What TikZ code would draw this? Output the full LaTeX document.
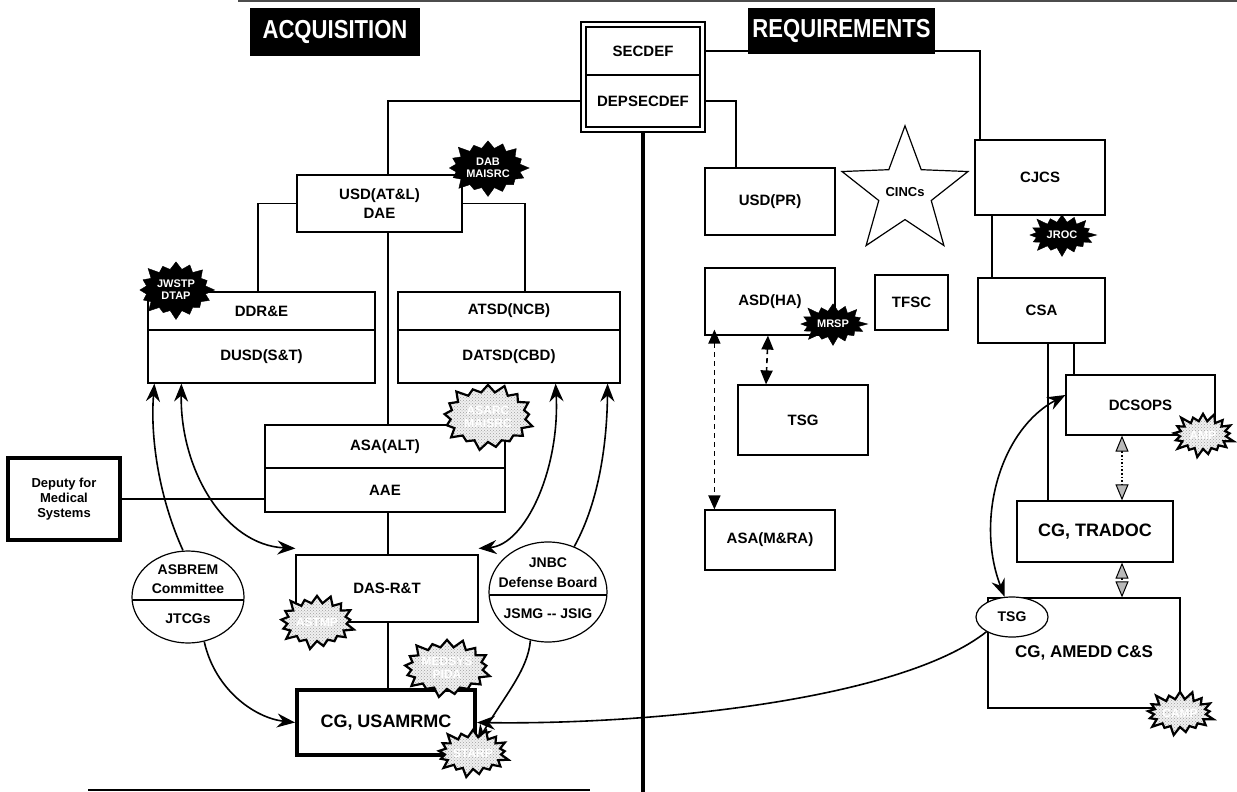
\documentclass[tikz,border=0pt]{standalone}
\usepackage{fontspec}
\setmainfont{Liberation Sans}
\usetikzlibrary{shapes.symbols,shapes.geometric,arrows.meta,calc,patterns}
\tikzset{
  box/.style={draw, line width=1.2pt, rectangle, inner sep=0pt, align=center, font=\bfseries\fontsize{15}{19}\selectfont},
  bigbox/.style={box, font=\bfseries\fontsize{18}{21}\selectfont},
  thickbox/.style={box, line width=4pt},
  title/.style={fill=black, text=white, inner sep=0pt, font=\bfseries\fontsize{26}{28}\selectfont},
  oval/.style={draw, ellipse, line width=1.2pt, inner sep=0pt},
  ovaltxt/.style={font=\bfseries\fontsize{14}{16}\selectfont, inner sep=0pt},
  bstar/.style={starburst, starburst points=16, starburst point height=10pt, fill=black, draw=black, text=white, inner sep=0pt, align=center, font=\bfseries\fontsize{11}{12}\selectfont},
  gstar/.style={starburst, starburst points=17, starburst point height=10pt, preaction={fill=gray!12}, pattern=crosshatch dots, pattern color=gray!75, draw=black, line width=2.2pt, text=white, inner sep=0pt, align=center, font=\bfseries\fontsize{12}{13}\selectfont},
  conn/.style={line width=1.2pt},
  tip/.tip={Stealth[length=18pt,width=14pt,inset=6pt]},
  darr/.style={line width=1.6pt, tip-tip},
  sarr/.style={line width=1.6pt, -tip},
  dasharr/.style={line width=1.6pt, dash pattern=on 5pt off 4pt, {Triangle[length=14pt,width=12pt]}-{Triangle[length=14pt,width=12pt]}},
  dotarr/.style={line width=1.6pt, dotted, {Triangle[length=16pt,width=13pt,fill=gray!55,line width=1pt]}-{Triangle[length=16pt,width=13pt,fill=gray!55,line width=1pt]}},
}
\begin{document}
\begin{tikzpicture}[x=1pt,y=-1pt]
\useasboundingbox[fill=white] (0,0) rectangle (1237,792);
% rules
\draw[line width=1.5pt, gray!60!black] (238,1) -- (1237,1);
\draw[line width=1.5pt] (88,790) -- (590,790);
% titles
\node[title, minimum width=170pt, minimum height=48pt] (acq) at (335,32) {\scalebox{0.85}[1]{ACQUISITION}};
\node[title, minimum width=187pt, minimum height=46pt] (req) at (841.5,31) {\scalebox{0.85}[1]{REQUIREMENTS}};
% SECDEF
\node[box, minimum width=124pt, minimum height=110pt] (sdo) at (643,77) {};
\node[box, minimum width=114pt, minimum height=48pt] (secdef) at (643,51) {SECDEF};
\node[box, minimum width=114pt, minimum height=52pt] (depsec) at (643,101) {DEPSECDEF};
\draw[line width=4pt] (sdo.south) -- (643,792);
% acquisition side
\node[box, minimum width=165pt, minimum height=57pt] (usd) at (379.5,203.5) {USD(AT\&L)\\DAE};
\node[box, minimum width=227pt, minimum height=38pt] (ddr1) at (261.5,311) {DDR\&E};
\node[box, minimum width=227pt, minimum height=53pt] (ddr2) at (261.5,356.5) {DUSD(S\&T)};
\node[box, minimum width=222pt, minimum height=38pt] (atsd1) at (509,311) {ATSD(NCB)};
\node[box, minimum width=222pt, minimum height=53pt] (atsd2) at (509,356.5) {DATSD(CBD)};
\node[box, minimum width=240pt, minimum height=43pt] (asa1) at (385,446.5) {ASA(ALT)};
\node[box, minimum width=240pt, minimum height=44pt] (asa2) at (385,490) {AAE};
\node[box, minimum width=182pt, minimum height=67pt] (das) at (387,588.5) {DAS-R\&T};
\node[thickbox, font=\bfseries\fontsize{18}{21}\selectfont, minimum width=178pt, minimum height=65pt] (cg) at (386,722.5) {CG, USAMRMC};
\node[thickbox, line width=3.5pt, font=\bfseries\fontsize{13}{15}\selectfont, minimum width=112pt, minimum height=82pt] (dep) at (64,499) {Deputy for\\Medical\\Systems};
% ellipses
\node[oval, minimum width=112pt, minimum height=92pt] (asb) at (188,597) {};
\node[ovaltxt] (asbt1) at (188,570) {ASBREM};
\node[ovaltxt] (asbt2) at (188,588) {Committee};
\node[ovaltxt] (asbt3) at (188,619) {JTCGs};
\draw[conn] ($(asb.center)+(-55.5,3)$) -- ($(asb.center)+(55.5,3)$);
\node[oval, minimum width=118pt, minimum height=100pt] (jnbc) at (548,592) {};
\node[ovaltxt] (jn1) at (548,563) {JNBC};
\node[ovaltxt] (jn2) at (548,582) {Defense Board};
\node[ovaltxt] (jn3) at (548,614) {JSMG -{}- JSIG};
\draw[conn] ($(jnbc.center)+(-58.5,3)$) -- ($(jnbc.center)+(58.5,3)$);
% requirements side
\node[box, minimum width=130pt, minimum height=67pt] (usdpr) at (770,201.5) {USD(PR)};
\node[box, minimum width=130pt, minimum height=67pt] (asdha) at (770,301.5) {ASD(HA)};
\node[box, minimum width=73pt, minimum height=55pt] (tfsc) at (911.5,302.5) {TFSC};
\node[box, minimum width=130pt, minimum height=70pt] (tsgb) at (803,420) {TSG};
\node[box, minimum width=130pt, minimum height=60pt] (asamra) at (770,540) {ASA(M\&RA)};
\node[star, star points=5, star point ratio=2.4, draw, line width=1.2pt, minimum size=112pt, inner sep=0pt, font=\bfseries\fontsize{13}{15}\selectfont] (cincs) at (905,192) {CINCs};
\node[box, minimum width=130pt, minimum height=75pt] (cjcs) at (1040,177.5) {CJCS};
\node[box, minimum width=127pt, minimum height=65pt] (csa) at (1041.5,310.5) {CSA};
\node[box, minimum width=149pt, minimum height=60pt] (dcsops) at (1140.5,405) {DCSOPS};
\node[bigbox, minimum width=156pt, minimum height=61pt] (tradoc) at (1095,531.5) {CG, TRADOC};
\node[box, font=\bfseries\fontsize{17}{20}\selectfont, minimum width=192pt, minimum height=110pt] (amedd) at (1084,653) {\raisebox{-8pt}{CG, AMEDD C\&S}};
\node[oval, fill=white, minimum width=72pt, minimum height=40pt, font=\bfseries\fontsize{14}{16}\selectfont] (tsge) at (1012,617) {TSG};
% tree lines
\draw[conn] (sdo.west|-depsec) -- (388,101) -- (usd.north-|388,0);
\draw[conn] (usd.south-|388,0) -- (asa1.north-|388,0);
\draw[conn] (asa2.south-|388,0) -- (das.north-|388,0);
\draw[conn] (das.south-|388,0) -- (cg.north-|388,0);
\draw[conn] (usd.west) -- (258,203.5) -- (ddr1.north-|258,0);
\draw[conn] (usd.east) -- (525,203.5) -- (atsd1.north-|525,0);
\draw[conn] (dep.east) -- (asa2.west|-dep.east);
\draw[conn] (sdo.east|-depsec) -- (736,101) -- (usdpr.north-|736,0);
\draw[conn] (sdo.east|-secdef) -- (980,51) -- (cjcs.north-|980,0);
\draw[conn] (cjcs.south-|992,0) -- (csa.north-|992,0);
\draw[conn] (csa.south-|1048,0) -- (tradoc.north-|1048,0);
\draw[conn] (csa.south-|1074,0) -- (dcsops.north-|1074,0);
% curved arrows
\draw[darr] ([xshift=34pt]ddr2.south west) .. controls (180,470) and (225,545) .. ([yshift=6pt]das.north west);
\draw[sarr] ([xshift=-5pt]asb.north) .. controls (160,500) and (150,440) .. ([xshift=7pt]ddr2.south west);
\draw[sarr] (asb.-70) .. controls (215,690) and (255,718) .. (cg.west);
\draw[darr] ([xshift=-65pt]atsd2.south east) .. controls (560,470) and (525,545) .. ([yshift=6pt]das.north east);
\draw[sarr] (jnbc.60) .. controls (600,500) and (607,440) .. ([xshift=-13pt]atsd2.south east);
\draw[sarr] (jnbc.-110) .. controls (528,670) and (505,695) .. ([yshift=-20pt]cg.east);
\draw[darr] (tsge.110) .. controls (975,520) and (1000,430) .. ([yshift=10pt]dcsops.west);
\draw[sarr] (tsge.-150) .. controls (900,700) and (650,725) .. (cg.east);
\draw[dasharr] ([xshift=-2pt]asdha.south) -- ([xshift=-37pt]tsgb.north);
\draw[dasharr] ([xshift=10pt,yshift=6pt]asdha.south west) -- ([xshift=10pt]asamra.north west);
\draw[dotarr] ([xshift=-18.5pt]dcsops.south) -- ([xshift=27pt]tradoc.north);
\draw[dotarr] ([xshift=27pt]tradoc.south) -- (amedd.north-|1122,0);
% starbursts
\node[bstar, minimum width=85pt, minimum height=60pt] (dab) at (488,168) {DAB\\MAISRC};
\node[bstar, minimum width=80pt, minimum height=62pt] (jwstp) at (176,290) {JWSTP\\DTAP};
\node[gstar, minimum width=95pt, minimum height=70pt] (asarc) at (488,417) {ASARC\\MAISRC};
\node[gstar, minimum width=72pt, minimum height=58pt] (astmp) at (317,622) {ASTMP};
\node[gstar, minimum width=78pt, minimum height=62pt] (medsys) at (447,668) {MEDSYS\\PIDA};
\node[gstar, minimum width=72pt, minimum height=52pt] (starp) at (473,753) {STARP};
\node[bstar, minimum width=72pt, minimum height=46pt] (jroc) at (1062,235) {JROC};
\node[bstar, minimum width=72pt, minimum height=46pt] (mrsp) at (833,324) {MRSP};
\node[gstar, minimum width=66pt, minimum height=48pt] (amp1) at (1203,435) {AMP};
\node[gstar, minimum width=72pt, minimum height=48pt] (amp2) at (1180,713) {CAMP};
\end{tikzpicture}
\end{document}
